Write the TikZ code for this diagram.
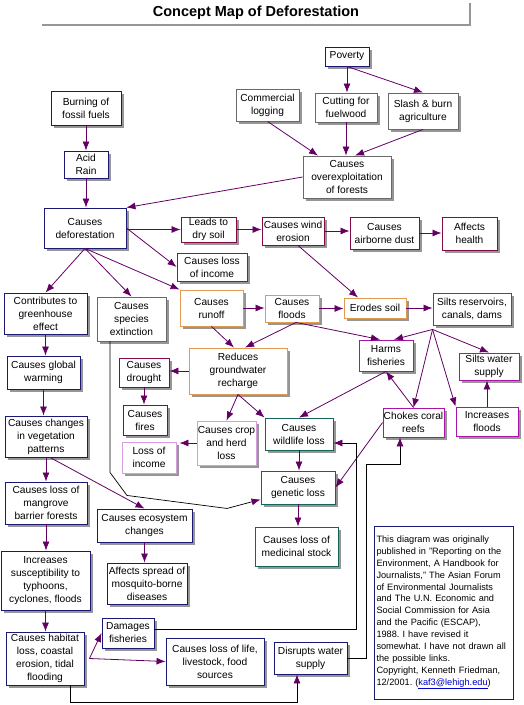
\documentclass[tikz,border=0pt]{standalone}
\usepackage{fontspec}
\setmainfont{Liberation Sans}
\usetikzlibrary{arrows.meta,shadows}
\definecolor{cnavy}{RGB}{25,25,115}
\definecolor{cgray}{RGB}{105,105,105}
\definecolor{cmaroon}{RGB}{130,10,70}
\definecolor{cgreen}{RGB}{25,90,35}
\definecolor{corange}{RGB}{225,155,80}
\definecolor{cmagenta}{RGB}{170,20,170}
\definecolor{clight}{RGB}{215,155,225}
\definecolor{cteal}{RGB}{20,100,90}
\definecolor{carrow}{RGB}{100,0,100}
\definecolor{cshadow}{RGB}{150,150,150}
\definecolor{cbar}{RGB}{150,150,150}
\definecolor{clink}{RGB}{0,0,200}
\frenchspacing
\begin{document}
\begin{tikzpicture}[x=1pt,y=-1pt,
  box/.style={draw, fill=white, line width=0.9pt, inner sep=0pt, align=center,
    font=\fontsize{10.2}{13}\selectfont,
    drop shadow={shadow xshift=3pt, shadow yshift=-3pt, fill=cshadow, opacity=1}},
  bn/.style={box, draw=cnavy},
  bg/.style={box, draw=cgray},
  bm/.style={box, draw=cmaroon},
  bgr/.style={box, draw=cgreen},
  bo/.style={box, draw=corange},
  bp/.style={box, draw=cmagenta},
  bl/.style={box, draw=clight},
  bt/.style={box, draw=cteal},
  arr/.style={draw=carrow, line width=0.8pt, -{Latex[length=9pt,width=7pt]}},
  blk/.style={draw=black, line width=0.7pt, -{Latex[length=9pt,width=7pt,color=carrow]}},
]
\useasboundingbox (0,0) rectangle (524,705);
\fill[white] (0,0) rectangle (524,705);

% title
\node[font=\fontsize{14.5}{17}\selectfont\bfseries] (title) at (256,13) {Concept Map of Deforestation};
\draw[cbar, line width=2.2pt] (42,25) -- (470,25) -- (470,3);

% nodes
\node[bn, minimum width=44, minimum height=19] (poverty) at (347,56.5) {Poverty};
\node[bn, minimum width=70, minimum height=34] (burn) at (86,108) {Burning of\\fossil fuels};
\node[bg, minimum width=63, minimum height=32] (logging) at (267.5,105) {Commercial\\logging};
\node[bg, minimum width=62, minimum height=29] (fuelwood) at (346,107.5) {Cutting for\\fuelwood};
\node[bg, minimum width=70, minimum height=36] (slash) at (423,111) {Slash \& burn\\agriculture};
\node[bn, minimum width=44, minimum height=27] (acid) at (86,164.5) {Acid\\Rain};
\node[bg, minimum width=88, minimum height=42] (overex) at (347,177) {Causes\\overexploitation\\of forests};
\node[bn, minimum width=82, minimum height=40] (defor) at (85,228) {Causes\\deforestation};
\node[bm, minimum width=55, minimum height=25] (drysoil) at (208.5,229.5) {Leads to\\dry soil};
\node[bm, minimum width=62, minimum height=28] (wind) at (293,231) {Causes wind\\erosion};
\node[bm, minimum width=69, minimum height=32] (dust) at (384.5,233) {Causes\\airborne dust};
\node[bm, minimum width=55, minimum height=33] (health) at (469.5,233.5) {Affects\\health};
\node[bgr, minimum width=70, minimum height=28] (income1) at (212,267) {Causes loss\\of income};
\node[bn, minimum width=83, minimum height=41] (greenhouse) at (45.5,313.5) {Contributes to\\greenhouse\\effect};
\node[bg, minimum width=69, minimum height=44] (species) at (131.5,319) {Causes\\species\\extinction};
\node[bo, minimum width=63, minimum height=36] (runoff) at (211.5,308) {Causes\\runoff};
\node[bo, minimum width=54, minimum height=27] (floods) at (292,308.5) {Causes\\floods};
\node[bo, minimum width=62, minimum height=20] (erodes) at (375,308) {Erodes soil};
\node[bp, minimum width=78, minimum height=32] (silts) at (472,309) {Silts reservoirs,\\canals, dams};
\node[bp, minimum width=54, minimum height=31] (harms) at (386,355.5) {Harms\\fisheries};
\node[bp, minimum width=60, minimum height=27] (siltswater) at (489,366.5) {Silts water\\supply};
\node[bn, minimum width=73, minimum height=33] (warming) at (43.5,372.5) {Causes global\\warming};
\node[bm, minimum width=50, minimum height=29] (drought) at (144,372.5) {Causes\\drought};
\node[bo, minimum width=98, minimum height=46] (ground) at (238,371) {Reduces\\groundwater\\recharge};
\node[bn, minimum width=82, minimum height=41] (vegetation) at (46,436.5) {Causes changes\\in vegetation\\patterns};
\node[bm, minimum width=44, minimum height=30] (fires) at (145,420) {Causes\\fires};
\node[bl, minimum width=59, minimum height=44] (crop) at (226.5,443) {Causes crop\\and herd\\loss};
\node[bl, minimum width=54, minimum height=31] (income2) at (149,457.5) {Loss of\\income};
\node[bt, minimum width=68, minimum height=32] (wildlife) at (299,434) {Causes\\wildlife loss};
\node[bp, minimum width=61, minimum height=29] (chokes) at (413.5,422.5) {Chokes coral\\reefs};
\node[bp, minimum width=62, minimum height=29] (incfloods) at (487,421.5) {Increases\\floods};
\node[bt, minimum width=74, minimum height=33] (genetic) at (298,487.5) {Causes\\genetic loss};
\node[bn, minimum width=82, minimum height=42] (mangrove) at (46,503) {Causes loss of\\mangrove\\barrier forests};
\node[bn, minimum width=95, minimum height=33] (ecosys) at (144.5,525.5) {Causes ecosystem\\changes};
\node[bt, minimum width=83, minimum height=39] (medicinal) at (296.5,546.5) {Causes loss of\\medicinal stock};
\node[bn, minimum width=89, minimum height=59] (suscept) at (45.5,580.5) {Increases\\susceptibility to\\typhoons,\\cyclones, floods};
\node[bn, minimum width=80, minimum height=41] (mosquito) at (147,583.5) {Affects spread of\\mosquito-borne\\diseases};
\node[bn, minimum width=52, minimum height=30] (damages) at (128,633) {Damages\\fisheries};
\node[bn, minimum width=78, minimum height=53] (habitat) at (45,658.5) {Causes habitat\\loss, coastal\\erosion, tidal\\flooding};
\node[bn, minimum width=98, minimum height=47] (lossoflife) at (215,661.5) {Causes loss of life,\\livestock, food\\sources};
\node[bn, minimum width=73, minimum height=32] (disrupts) at (310.5,658) {Disrupts water\\supply};

\node[draw=cnavy, line width=0.9pt, fill=white, text width=134pt, inner xsep=2.5pt, inner ysep=0pt,
  minimum height=173pt, align=left, font=\fontsize{9.2}{11.9}\selectfont] (info) at (443.5,612.5)
 {This diagram was originally\\
  published in "Reporting on the\\
  Environment, A Handbook for\\
  Journalists," The Asian Forum\\
  of Environmental Journalists\\
  and The U.N. Economic and\\
  Social Commission for Asia\\
  and the Pacific (ESCAP),\\
  1988. I have revised it\\
  somewhat. I have not drawn all\\
  the possible links.\\
  Copyright, Kenneth Friedman,\\
  12/2001. (\textcolor{clink}{\underline{kaf3@lehigh.edu}})};

\coordinate (fan) at ([yshift=-4pt]silts.south west);

% connectors
\draw[arr] (poverty.south) -- (poverty.south |- fuelwood.north);
\draw[arr] (poverty.south) -- (slash.north);
\draw[arr] (logging.south) -- ([xshift=-29pt]overex.north);
\draw[arr] (fuelwood.south) -- (fuelwood.south |- overex.north);
\draw[arr] (slash.south) -- ([xshift=8pt]overex.north);
\draw[arr] (burn.south) -- (acid.north);
\draw[arr] (acid.south) -- (acid.south |- defor.north);
\draw[arr] (overex.west) -- (defor.north east);
\draw[arr] (defor.east |- drysoil.west) -- (drysoil.west);
\draw[arr] (defor.east) -- (income1.west);
\draw[arr] (defor.south) -- (greenhouse.north);
\draw[arr] (defor.south) -- (species.north);
\draw[arr] (defor.south) -- (runoff.north west);
\draw[arr] (drysoil.east) -- (drysoil.east -| wind.west);
\draw[arr] (wind.east) -- (wind.east -| dust.west);
\draw[arr] (dust.east) -- (dust.east -| health.west);
\draw[arr] ([xshift=5pt]wind.south) -- ([xshift=-17pt]erodes.north);
\draw[arr] (runoff.east) -- (runoff.east -| floods.west);
\draw[arr] (floods.east) -- (floods.east -| erodes.west);
\draw[arr] (erodes.east) -- (erodes.east -| silts.west);
\draw[arr] (runoff.south) -- ([xshift=-4pt]ground.north);
\draw[arr] ([xshift=4pt]floods.south) -- ([xshift=7pt]ground.north);
\draw[arr] ([xshift=4pt]floods.south) -- ([xshift=-6pt]harms.north);
\draw[arr] (ground.west) -- (ground.west -| drought.east);
\draw[arr] (drought.south) -- (drought.south |- fires.north);
\draw[arr] (ground.south) -- (crop.north);
\draw[arr] (ground.south) -- (wildlife.north west);
\draw[arr, shorten >=3pt] (crop.west) -- (crop.west -| income2.east);
\draw[arr] (harms.south) -- (wildlife.north);
\draw[arr] (chokes.north) -- (harms.south);
\draw[arr] (fan) -- ([xshift=8pt]harms.north);
\draw[arr] (fan) -- (siltswater.north);
\draw[arr] (fan) -- (chokes.north);
\draw[arr] (fan) -- (incfloods.north west);
\draw[arr] (incfloods.north) -- (incfloods.north |- siltswater.south);
\draw[arr] (wildlife.south) -- (wildlife.south |- genetic.north);
\draw[arr] (genetic.south) -- (genetic.south |- medicinal.north);
\draw[arr] (chokes.west) -- (genetic.east);
\draw[blk] ([xshift=-21.5pt]species.south) -- ++(0,131) -- ++(17,23) -- ++(100,13) -- ([yshift=-12pt]genetic.west);
\draw[arr] (vegetation.south) -- (vegetation.south |- mangrove.north);
\draw[arr] ([xshift=4pt]vegetation.south) -- (ecosys.north);
\draw[arr] (greenhouse.south) -- (greenhouse.south |- warming.north);
\draw[arr] (warming.south) -- (warming.south |- vegetation.north);
\draw[arr] (mangrove.south) -- (mangrove.south |- suscept.north);
\draw[arr] (suscept.south) -- (suscept.south |- habitat.north);
\draw[arr] (ecosys.south) -- (ecosys.south |- mosquito.north);
\draw[arr] ([xshift=5pt]habitat.east) -- (damages.west);
\draw[arr] ([xshift=5pt]habitat.east) -- (lossoflife.west);
\draw[blk] ([xshift=25pt]habitat.south) -- ++(0,17) -| ([xshift=-13.5pt]disrupts.south);
\draw[blk] ([yshift=4pt]damages.east) -- ++(202,0) |- ([yshift=-9pt]wildlife.east);
\draw[blk] (disrupts.east) -- ++(19,0) -- ++(0,-194) -| ([xshift=-13.5pt]chokes.south);
\end{tikzpicture}
\end{document}
